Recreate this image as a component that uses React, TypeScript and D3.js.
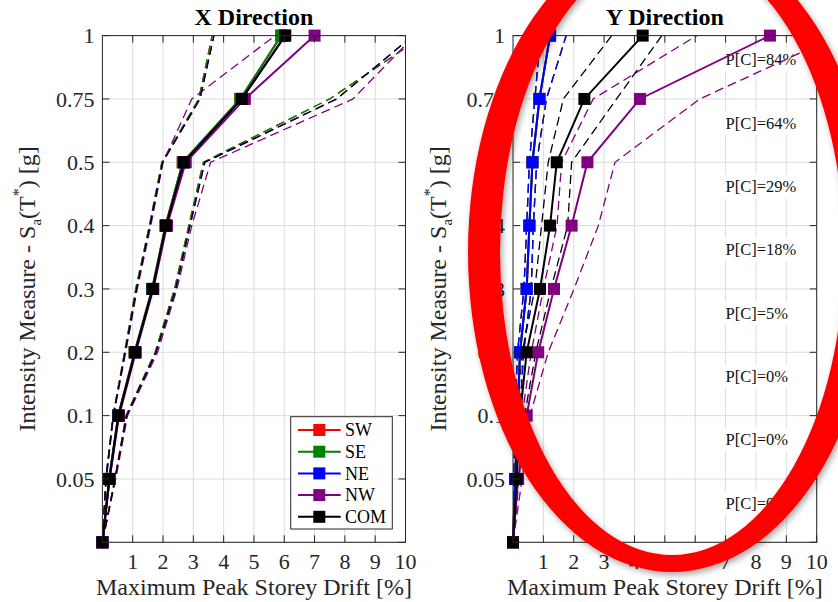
import React from "react";
import * as d3 from "d3";

// Intensity levels (equally spaced on the vertical axis)
const LEVELS = [0, 0.05, 0.1, 0.2, 0.3, 0.4, 0.5, 0.75, 1];
const LEVEL_LABELS = ["", "0.05", "0.1", "0.2", "0.3", "0.4", "0.5", "0.75", "1"];
const X_TICKS = [1, 2, 3, 4, 5, 6, 7, 8, 9, 10];

const SERIES = ["SW", "SE", "NE", "NW", "COM"];
const COLORS = ["#ff0000", "#008000", "#0000ff", "#800080", "#000000"];

// X direction: median, 16th and 84th percentile drifts [%]
const X_SW_MED = [0, 0.22, 0.52, 1.06, 1.64, 2.08, 2.65, 4.55, 5.9];
const X_SW_P16 = [0, 0.11, 0.35, 0.73, 1.1, 1.55, 1.96, 3.18, 3.62];
const X_SW_P84 = [0, 0.41, 0.78, 1.74, 2.38, 2.85, 3.33, 7.5, 10.6];
const X_SE_MED = [0, 0.22, 0.52, 1.06, 1.64, 2.08, 2.65, 4.55, 5.9];
const X_SE_P16 = [0, 0.11, 0.35, 0.73, 1.1, 1.55, 1.96, 3.18, 3.62];
const X_SE_P84 = [0, 0.41, 0.78, 1.74, 2.38, 2.85, 3.33, 7.5, 10.6];
const X_NE_MED = [0, 0.23, 0.53, 1.08, 1.66, 2.1, 2.69, 4.6, 6.03];
const X_NE_P16 = [0, 0.12, 0.36, 0.75, 1.13, 1.57, 1.99, 3.22, 3.68];
const X_NE_P84 = [0, 0.42, 0.8, 1.77, 2.42, 2.89, 3.38, 7.73, 10.25];
const X_NW_MED = [0, 0.24, 0.55, 1.1, 1.68, 2.13, 2.75, 4.7, 7.0];
const X_NW_P16 = [0, 0.13, 0.37, 0.77, 1.15, 1.6, 2.0, 2.95, 5.7];
const X_NW_P84 = [0, 0.44, 0.83, 1.82, 2.46, 2.95, 3.57, 8.27, 10.3];
const X_COM_MED = [0, 0.23, 0.53, 1.08, 1.66, 2.1, 2.69, 4.6, 6.03];
const X_COM_P16 = [0, 0.12, 0.36, 0.75, 1.13, 1.57, 1.99, 3.22, 3.68];
const X_COM_P84 = [0, 0.42, 0.8, 1.77, 2.42, 2.89, 3.38, 7.73, 10.25];

// Y direction
const Y_SW_MED = [0, 0.07, 0.15, 0.23, 0.45, 0.54, 0.64, 0.87, 1.22];
const Y_SW_P16 = [0, 0.03, 0.06, 0.15, 0.36, 0.45, 0.54, 0.72, 0.9];
const Y_SW_P84 = [0, 0.12, 0.22, 0.35, 0.6, 0.67, 0.78, 1.1, 1.75];
const Y_SE_MED = [0, 0.07, 0.15, 0.23, 0.45, 0.54, 0.64, 0.87, 1.22];
const Y_SE_P16 = [0, 0.03, 0.06, 0.15, 0.36, 0.45, 0.54, 0.72, 0.9];
const Y_SE_P84 = [0, 0.12, 0.22, 0.35, 0.6, 0.67, 0.78, 1.1, 1.75];
const Y_NE_MED = [0, 0.07, 0.15, 0.23, 0.45, 0.54, 0.64, 0.87, 1.22];
const Y_NE_P16 = [0, 0.03, 0.06, 0.15, 0.36, 0.45, 0.54, 0.72, 0.9];
const Y_NE_P84 = [0, 0.12, 0.22, 0.35, 0.6, 0.67, 0.78, 1.1, 1.75];
const Y_NW_MED = [0, 0.17, 0.45, 0.83, 1.35, 1.93, 2.45, 4.18, 8.46];
const Y_NW_P16 = [0, 0.1, 0.3, 0.6, 1.0, 1.45, 1.6, 2.64, 6.05];
const Y_NW_P84 = [0, 0.3, 0.56, 1.16, 2.01, 2.81, 3.36, 6.15, 10.7];
const Y_COM_MED = [0, 0.12, 0.23, 0.45, 0.89, 1.22, 1.44, 2.35, 4.27];
const Y_COM_P16 = [0, 0.05, 0.12, 0.3, 0.72, 0.94, 1.16, 1.66, 3.25];
const Y_COM_P84 = [0, 0.2, 0.38, 0.75, 1.25, 1.8, 1.93, 3.41, 4.9];

// Collapse probabilities shown between intensity levels (top to bottom)
const PC_LABELS = ["P[C]=84%", "P[C]=64%", "P[C]=29%", "P[C]=18%", "P[C]=5%", "P[C]=0%", "P[C]=0%", "P[C]=0%"];

type Stats = { med: number[]; p16: number[]; p84: number[] };

const X_DATA: Stats[] = [
  { med: X_SW_MED, p16: X_SW_P16, p84: X_SW_P84 },
  { med: X_SE_MED, p16: X_SE_P16, p84: X_SE_P84 },
  { med: X_NE_MED, p16: X_NE_P16, p84: X_NE_P84 },
  { med: X_NW_MED, p16: X_NW_P16, p84: X_NW_P84 },
  { med: X_COM_MED, p16: X_COM_P16, p84: X_COM_P84 },
];
const Y_DATA: Stats[] = [
  { med: Y_SW_MED, p16: Y_SW_P16, p84: Y_SW_P84 },
  { med: Y_SE_MED, p16: Y_SE_P16, p84: Y_SE_P84 },
  { med: Y_NE_MED, p16: Y_NE_P16, p84: Y_NE_P84 },
  { med: Y_NW_MED, p16: Y_NW_P16, p84: Y_NW_P84 },
  { med: Y_COM_MED, p16: Y_COM_P16, p84: Y_COM_P84 },
];

const FONT = "Liberation Serif, Times New Roman, Times, Nimbus Roman, DejaVu Serif, serif";
const AXIS_COLOR = "#262626";
const TOP = 35.6;
const BOTTOM = 542.3;
const MARK = 12;

type PanelProps = {
  id: string;
  left: number;
  right: number;
  title: string;
  data: Stats[];
  legend?: boolean;
  pcLabels?: boolean;
};

function Panel({ id, left, right, title, data, legend, pcLabels }: PanelProps) {
  const x = d3.scaleLinear().domain([0, 10]).range([left, right]);
  const y = d3.scalePoint<string>().domain(LEVELS.map(String)).range([BOTTOM, TOP]);
  const yv = (i: number) => y(String(LEVELS[i])) as number;
  const step = y.step();
  const line = d3
    .line<number>()
    .x((d) => x(d))
    .y((_, i) => yv(i));
  const cx = (left + right) / 2;
  const cy = (TOP + BOTTOM) / 2;
  const tick = 7;
  const txt = { fontFamily: FONT } as React.CSSProperties;

  return (
    <g>
      <defs>
        <clipPath id={`clip-${id}`}>
          <rect x={left} y={TOP} width={right - left} height={BOTTOM - TOP} />
        </clipPath>
      </defs>
      <rect x={left} y={TOP} width={right - left} height={BOTTOM - TOP} fill="#fff" />
      {/* grid */}
      {X_TICKS.map((t) => (
        <line key={`gx${t}`} x1={x(t)} x2={x(t)} y1={TOP} y2={BOTTOM} stroke="#dcdcdc" strokeWidth={1} />
      ))}
      {LEVELS.map((_, i) => (
        <line key={`gy${i}`} x1={left} x2={right} y1={yv(i)} y2={yv(i)} stroke="#dcdcdc" strokeWidth={1} />
      ))}
      {/* collapse probability annotations */}
      {pcLabels &&
        PC_LABELS.map((lab, k) => {
          const i = LEVELS.length - 1 - k;
          const ty = yv(i) + step * 0.38;
          return (
            <g key={`pc${k}`}>
              <rect x={x(6.95)} y={ty - 12} width={lab.length > 7 ? 72 : 64} height={24} fill="#fff" />
              <text x={x(7.0)} y={ty} dy="0.35em" style={txt} fontSize={16.5} fill="#111">
                {lab}
              </text>
            </g>
          );
        })}
      {/* percentile bands (dashed) */}
      <g clipPath={`url(#clip-${id})`}>
        {data.map((s, k) => (
          <g key={`d${k}`}>
            <path d={line(s.p16) || ""} fill="none" stroke={COLORS[k]} strokeWidth={1.3} strokeDasharray="9 5" />
            <path d={line(s.p84) || ""} fill="none" stroke={COLORS[k]} strokeWidth={1.3} strokeDasharray="9 5" />
          </g>
        ))}
      </g>
      {/* medians */}
      {data.map((s, k) => (
        <g key={`m${k}`}>
          <path d={line(s.med) || ""} fill="none" stroke={COLORS[k]} strokeWidth={2} />
          {s.med.map((v, i) => (
            <rect key={i} x={x(v) - MARK / 2} y={yv(i) - MARK / 2} width={MARK} height={MARK} fill={COLORS[k]} />
          ))}
        </g>
      ))}
      {/* axes box */}
      <rect x={left} y={TOP} width={right - left} height={BOTTOM - TOP} fill="none" stroke={AXIS_COLOR} strokeWidth={1} />
      {X_TICKS.map((t) => (
        <g key={`tx${t}`}>
          <line x1={x(t)} x2={x(t)} y1={BOTTOM} y2={BOTTOM - tick} stroke={AXIS_COLOR} />
          <line x1={x(t)} x2={x(t)} y1={TOP} y2={TOP + tick} stroke={AXIS_COLOR} />
          <text x={x(t)} y={569} textAnchor="middle" style={txt} fontSize={22} fill={AXIS_COLOR}>
            {t}
          </text>
        </g>
      ))}
      {LEVELS.map((_, i) => (
        <g key={`ty${i}`}>
          <line x1={left} x2={left + tick} y1={yv(i)} y2={yv(i)} stroke={AXIS_COLOR} />
          <line x1={right} x2={right - tick} y1={yv(i)} y2={yv(i)} stroke={AXIS_COLOR} />
          <text x={left - 8} y={yv(i)} dy="0.35em" textAnchor="end" style={txt} fontSize={22} fill={AXIS_COLOR}>
            {LEVEL_LABELS[i]}
          </text>
        </g>
      ))}
      {/* titles and axis labels */}
      <text x={cx} y={25} textAnchor="middle" style={txt} fontWeight="bold" fontSize={24} fill="#000">
        {title}
      </text>
      <text x={cx} y={595} textAnchor="middle" style={txt} fontSize={24} fill={AXIS_COLOR}>
        Maximum Peak Storey Drift [%]
      </text>
      <text
        transform={`translate(${left - 67},${cy}) rotate(-90)`}
        textAnchor="middle"
        style={txt}
        fontSize={24}
        fill={AXIS_COLOR}
      >
        Intensity Measure - S
        <tspan fontSize={15} dy={6}>a</tspan>
        <tspan dy={-6}>(T</tspan>
        <tspan fontSize={16} dy={-11}>*</tspan>
        <tspan dy={11}>) [g]</tspan>
      </text>
      {/* legend */}
      {legend && (
        <g>
          <rect x={290.7} y={416.7} width={101.6} height={112.3} fill="#fff" stroke={AXIS_COLOR} strokeWidth={1} />
          {SERIES.map((name, k) => {
            const ly = 430 + k * 21.7;
            return (
              <g key={name}>
                <line x1={298} x2={340.7} y1={ly} y2={ly} stroke={COLORS[k]} strokeWidth={2} />
                <rect x={319.3 - MARK / 2} y={ly - MARK / 2} width={MARK} height={MARK} fill={COLORS[k]} />
                <text x={345} y={ly} dy="0.35em" style={txt} fontSize={18} fill="#000">
                  {name}
                </text>
              </g>
            );
          })}
        </g>
      )}
    </g>
  );
}

export default function App() {
  // highlight ring around the Y-direction panel (outer and inner outlines)
  const ringCx = 672;
  const ringCy = 252;
  const ellipse = (rx: number, ry: number) =>
    `M${ringCx - rx},${ringCy} a${rx},${ry} 0 1,0 ${2 * rx},0 a${rx},${ry} 0 1,0 ${-2 * rx},0 Z`;
  const ringPath = ellipse(204, 320) + " " + ellipse(172, 303);

  return (
    <svg
      width={838}
      height={602}
      viewBox="0 0 838 602"
      style={{ position: "absolute", left: 0, top: 0, background: "#fff" }}
    >
      <defs>
        <filter id="ringShadow" x="-20%" y="-20%" width="140%" height="140%">
          <feDropShadow dx={2} dy={3} stdDeviation={3} floodColor="#000" floodOpacity={0.35} />
        </filter>
      </defs>
      <rect width={838} height={602} fill="#fff" />
      <Panel id="x" left={102.4} right={405.5} title="X Direction" data={X_DATA} legend />
      <Panel id="y" left={513} right={816.7} title="Y Direction" data={Y_DATA} pcLabels />
      <path d={ringPath} fill="#ff0000" fillRule="evenodd" filter="url(#ringShadow)" />
    </svg>
  );
}
